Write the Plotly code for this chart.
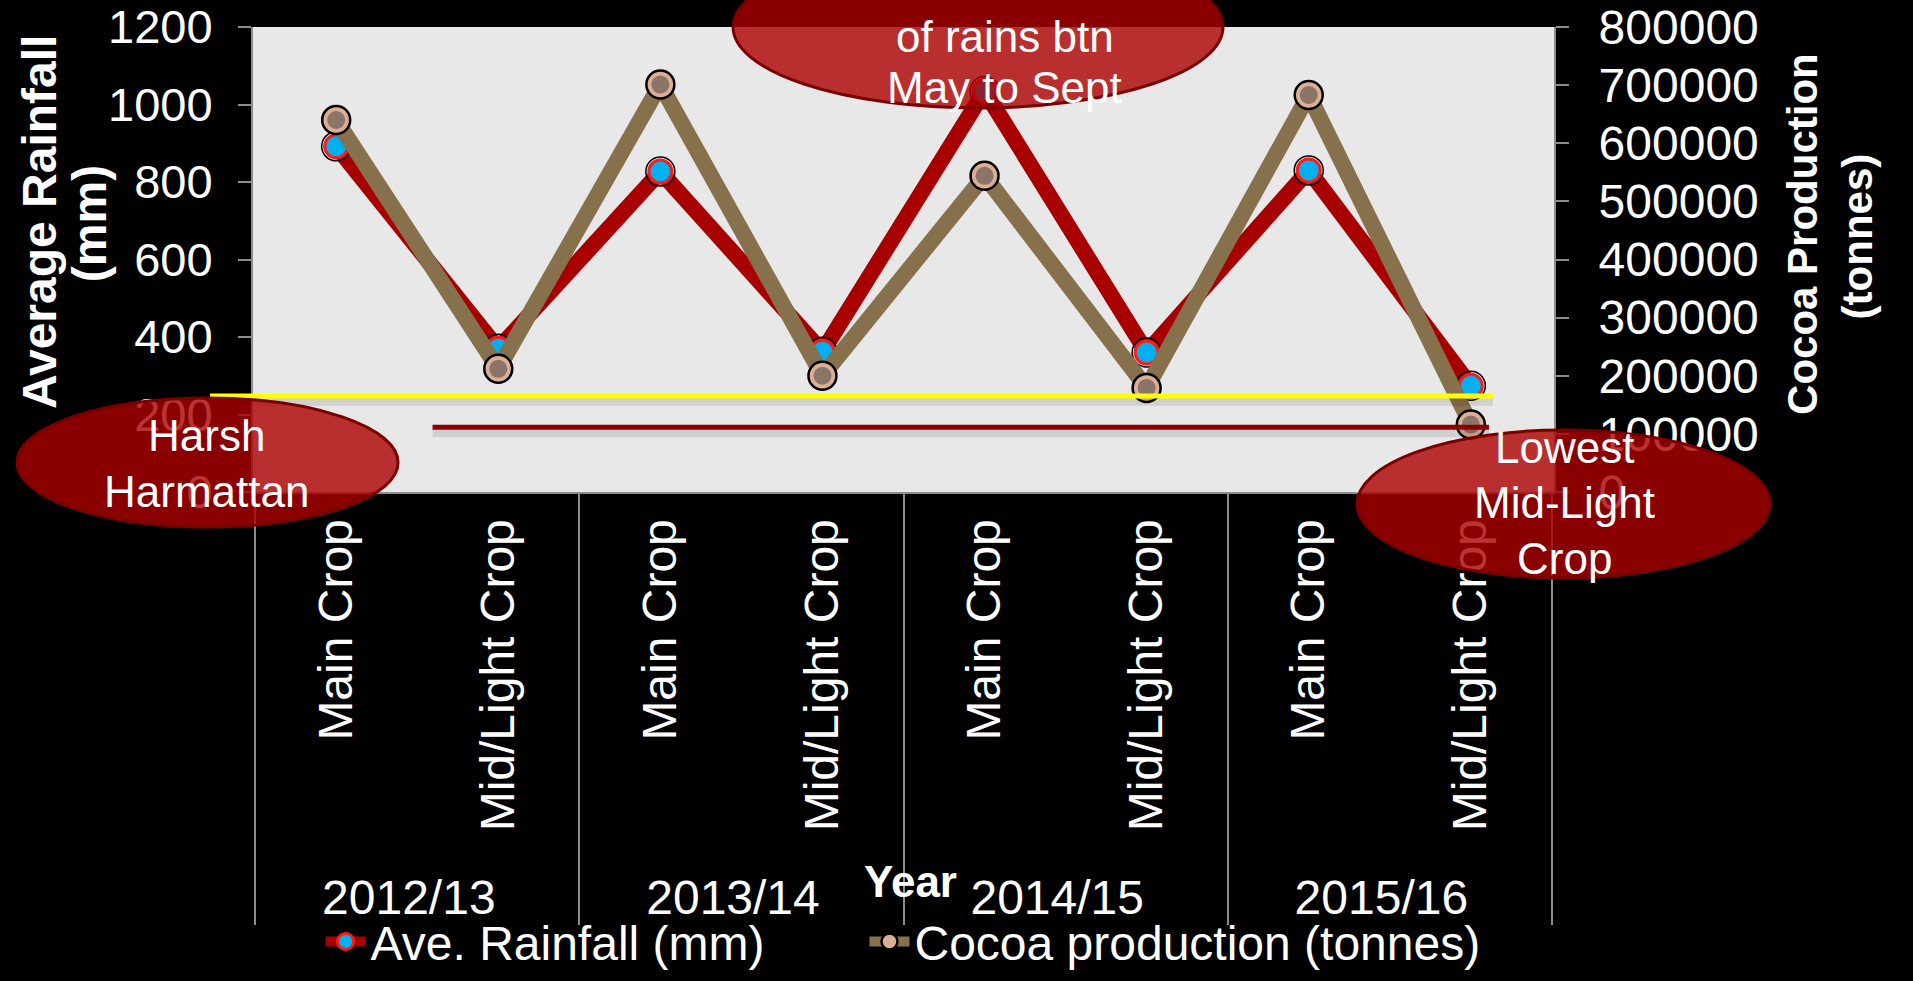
import plotly.graph_objects as go

# seasons and crop years (two-level category axis)
years = ["2012/13", "2012/13", "2013/14", "2013/14",
         "2014/15", "2014/15", "2015/16", "2015/16"]
seasons = ["Main Crop", "Mid/Light Crop"] * 4

rainfall_mm = [892, 370, 827, 362, 1035, 360, 830, 274]
cocoa_tonnes = [640000, 212000, 701000, 200000, 544000, 179000, 683000, 116000]

rain_ticks = [0, 200, 400, 600, 800, 1000, 1200]
cocoa_ticks = [0, 100000, 200000, 300000, 400000, 500000, 600000, 700000, 800000]

# reference levels drawn across the chart (mm)
harmattan_level = 248
lowest_level = 167

FONT = "Liberation Sans, Arial, sans-serif"
GREY = "#8c8c8c"

x = [years, seasons]

fig = go.Figure()
fig.add_trace(go.Scatter(
    x=x, y=rainfall_mm, name="Ave. Rainfall (mm)", legend="legend",
    mode="lines+markers",
    line=dict(color="#a80000", width=16),
    marker=dict(size=23, color="#00b0f0", line=dict(color="#ff1a1a", width=3)),
))
fig.add_trace(go.Scatter(
    x=x, y=rainfall_mm, mode="markers", showlegend=False, hoverinfo="skip",
    marker=dict(symbol="circle-open", size=29, color="black", line=dict(width=1.5)),
))
fig.add_trace(go.Scatter(
    x=x, y=cocoa_tonnes, name="Cocoa production (tonnes)", yaxis="y2",
    legend="legend2", mode="lines+markers",
    line=dict(color="#87714d", width=16),
    marker=dict(size=28, color="#dcae95", line=dict(color="black", width=2.5)),
))
fig.add_trace(go.Scatter(
    x=x, y=cocoa_tonnes, yaxis="y2", mode="markers", showlegend=False,
    hoverinfo="skip", marker=dict(size=18, color="#8b7468"),
))

ell_fill = "rgba(172,0,0,0.8)"
ell_line = dict(color="#7a0000", width=3)
shapes = [
    # drop shadows of the level lines
    dict(type="line", xref="paper", yref="y", x0=-0.033, x1=0.953,
         y0=harmattan_level - 14, y1=harmattan_level - 14,
         line=dict(color="rgba(0,0,0,0.10)", width=9)),
    dict(type="line", xref="paper", yref="y", x0=0.138, x1=0.950,
         y0=lowest_level - 14, y1=lowest_level - 14,
         line=dict(color="rgba(0,0,0,0.10)", width=9)),
    dict(type="line", xref="paper", yref="y", x0=-0.033, x1=0.953,
         y0=harmattan_level, y1=harmattan_level,
         line=dict(color="#ffff00", width=5)),
    dict(type="line", xref="paper", yref="y", x0=0.138, x1=0.950,
         y0=lowest_level, y1=lowest_level,
         line=dict(color="#8b0000", width=5)),
    dict(type="circle", xref="paper", yref="paper", x0=-0.1814, x1=0.1115,
         y0=-0.0753, y1=0.2022, fillcolor=ell_fill, line=ell_line),
    dict(type="circle", xref="paper", yref="paper", x0=0.369, x1=0.7456,
         y0=0.8258, y1=1.1742, fillcolor=ell_fill, line=ell_line),
    dict(type="circle", xref="paper", yref="paper", x0=0.8486, x1=1.166,
         y0=-0.185, y1=0.1333, fillcolor=ell_fill, line=ell_line),
]

# callout texts, one line per annotation so the line spacing can be set
callouts = [
    ("Harsh", -0.0354, 0.1215),
    ("Harmattan", -0.0354, 0.001),
    ("of rains btn", 0.5778, 0.979),
    ("May to Sept", 0.5778, 0.869),
    ("Lowest", 1.0077, 0.0953),
    ("Mid-Light", 1.0077, -0.0228),
    ("Crop", 1.0077, -0.1435),
]
annotations = [dict(text=t, x=ax, y=ay, xref="paper", yref="paper",
                    showarrow=False, xanchor="center", yanchor="middle",
                    font=dict(family=FONT, color="white", size=44))
               for t, ax, ay in callouts]

titles = [
    ("<b>Average Rainfall</b>", -0.1640, 0.580, 48),
    ("<b>(mm)</b>", -0.1261, 0.578, 48),
    ("<b>Cocoa Production</b>", 1.191, 0.556, 42),
    ("<b>(tonnes)</b>", 1.233, 0.550, 42),
]
for text, tx, ty, size in titles:
    annotations.append(dict(text=text, x=tx, y=ty, xref="paper", yref="paper",
                            showarrow=False, textangle=-90,
                            xanchor="center", yanchor="middle",
                            font=dict(family=FONT, color="white", size=size)))
annotations.append(dict(text="<b>Year</b>", x=0.505, y=-0.837,
                        xref="paper", yref="paper", showarrow=False,
                        xanchor="center", yanchor="middle",
                        font=dict(family=FONT, color="white", size=44)))

legend_style = dict(orientation="h", xanchor="left", yanchor="middle",
                    xref="container", yref="container",
                    font=dict(family=FONT, size=48, color="white"),
                    bgcolor="rgba(0,0,0,0)", itemwidth=40)

fig.update_layout(
    width=1913, height=981,
    margin=dict(l=253, r=359, t=27, b=489, autoexpand=False),
    paper_bgcolor="black",
    plot_bgcolor="#e8e8e8",
    font=dict(family=FONT, color="white", size=46),
    showlegend=True,
    legend=dict(legend_style, x=0.1676, y=0.040),
    legend2=dict(legend_style, x=0.4519, y=0.040),
    xaxis=dict(
        type="multicategory", tickangle=-90,
        tickfont=dict(size=48, color="white"),
        showline=True, linecolor=GREY, linewidth=2,
        ticks="", showgrid=False,
        showdividers=True, dividercolor=GREY, dividerwidth=1.5,
        ticklabelstandoff=6,
    ),
    yaxis=dict(
        range=[0, 1200], tickvals=rain_ticks, showgrid=False, zeroline=False,
        showline=True, linecolor=GREY, linewidth=2,
        ticks="outside", ticklen=13, tickwidth=2, tickcolor=GREY,
        tickfont=dict(size=47, color="white"), ticklabelstandoff=16,
    ),
    yaxis2=dict(
        range=[0, 800000], tickvals=cocoa_ticks, tickformat="d",
        overlaying="y", side="right", showgrid=False, zeroline=False,
        showline=True, linecolor=GREY, linewidth=2,
        ticks="outside", ticklen=13, tickwidth=2, tickcolor=GREY,
        tickfont=dict(size=48, color="white"), ticklabelstandoff=20,
    ),
    shapes=shapes,
    annotations=annotations,
)

fig.write_html("out.html", config={"displayModeBar": False},
               post_script="document.body.style.margin='0';"
                           "document.body.style.overflow='hidden';")
